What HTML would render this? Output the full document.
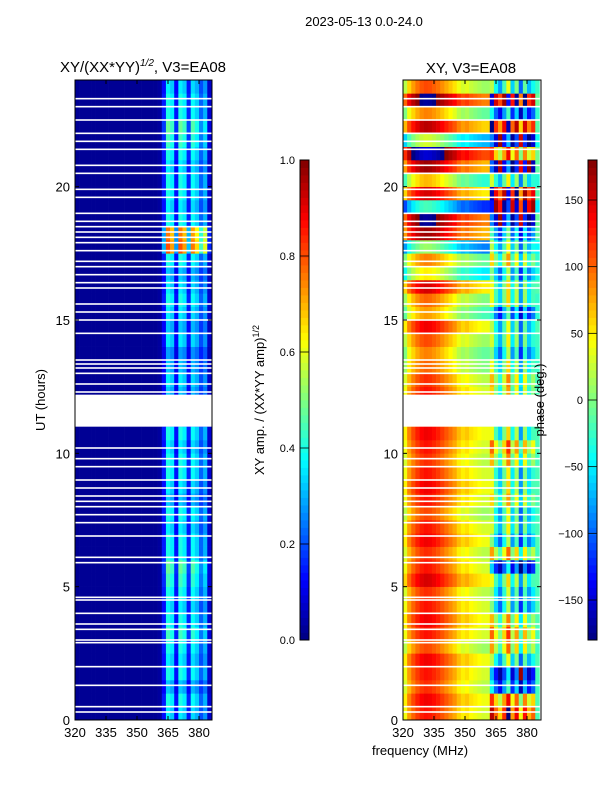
<!DOCTYPE html>
<html><head><meta charset="utf-8"><style>
html,body{margin:0;padding:0;background:#fff;}
svg{display:block;font-family:"Liberation Sans",sans-serif;}
</style></head><body>
<svg id="fig" width="600" height="800" viewBox="0 0 600 800">
<rect width="600" height="800" fill="#fff"/>
<text x="364" y="26" font-size="13" text-anchor="middle">2023-05-13 0.0-24.0</text>
<text x="143" y="72" font-size="15" text-anchor="middle">XY/(XX*YY)<tspan dy="-6" font-size="10" font-style="italic">1/2</tspan><tspan dy="6">, V3=EA08</tspan></text>
<text x="471" y="73" font-size="15" text-anchor="middle">XY, V3=EA08</text>
<g id="ampPanel"></g>
<g id="phPanel"></g>
<g id="axes"></g>
<text transform="translate(45,400) rotate(-90)" font-size="13" text-anchor="middle">UT (hours)</text>
<text x="420" y="755" font-size="13" text-anchor="middle">frequency (MHz)</text>
<text transform="translate(264,400) rotate(-90)" font-size="13" text-anchor="middle">XY amp. / (XX*YY amp)<tspan dy="-5" font-size="9">1/2</tspan></text>
<text transform="translate(544,400) rotate(-90)" font-size="13" text-anchor="middle">phase (deg.)</text>
</svg>
<script>
// ---- data ----
const freqStart = 320, freqStep = 2, nCols = 33;
const timeStep = 0.5, nRows = 48;
const ampLowBase = [0.02,0.02,0.02,0.02,0.02,0.02,0.02,0.02,0.02,0.02,0.02,0.02,0.02,0.02,0.02,0.02,0.02,0.02,0.02,0.02,0.03];
const ampHighCols = [0.15,0.4,0.36,0.14,0.4,0.36,0.16,0.38,0.33,0.22,0.3,0.08];
const ampRowGain = [0.9,1,0.8,1,0.9,1,1.1,1,0.9,1,1.1,1.2,1,1,0.9,1,0.8,0.9,1,1,0.9,1,0.8,0.7,0.8,0.9,0.8,0.7,0.9,0.8,0.9,1,0.9,0.8,1,2.0,1.9,1,0.9,1,1,0.9,1,1.1,1.2,1,1,0.9];
const phLowBase = [40,80,100,115,125,130,128,122,115,105,95,85,75,60,50,55,45,40,35,30,30];
const phLowRow = [0,10,-10,0,10,-20,0,10,0,-10,20,0,-10,10,0,-20,0,10,0,-10,0,10,0,0,0,-10,-30,-40,-20,10,-50,-30,20,-80,-40,-120,40,60,-150,20,-60,40,80,-100,30,-40,60,-20];
const phHighRow = [100,60,-100,-130,-40,20,40,10,-60,-50,-20,-120,20,-60,-30,-40,0,-20,-30,10,40,-20,-20,-20,0,10,-20,-60,-30,-40,-90,-20,-20,-60,0,-40,-80,-150,170,140,-30,-160,60,-150,120,-100,150,-40];
const phHighCols = [60,0,-40,20,80,-20,40,-60,30,-30,0,-20];
const bigGaps = [[11.0,12.2]];
const thinGaps = [0.3,0.5,1.3,2.0,2.9,3.0,3.4,3.6,4.0,4.5,4.6,5.9,6.1,6.9,7.4,7.7,8.0,8.2,8.4,8.7,9.0,9.5,9.8,10.2,12.3,12.6,13.0,13.2,13.35,13.5,14.5,15.0,15.3,15.6,16.2,16.4,16.7,17.0,17.2,17.6,17.9,18.1,18.3,18.5,18.7,19.0,19.6,19.9,20.5,20.8,21.4,21.7,22.0,22.5,23.0,23.3];
const yTicks = [0,5,10,15,20];
const xTicks = [320,335,350,365,380];
const ampCbTicks = [0.0,0.2,0.4,0.6,0.8,1.0];
const phCbTicks = [-150,-100,-50,0,50,100,150];

// ---- geometry ----
const NS="http://www.w3.org/2000/svg";
const plotTop=80, plotBot=720;
const panels={amp:{x0:75,x1:212},ph:{x0:403,x1:541}};
const pxPerMHz=(199-75)/60;
function xs(p,f){return panels[p].x0+(f-320)*pxPerMHz;}
function ys(t){return plotBot-(t/24)*(plotBot-plotTop);}
function jet(v){v=Math.max(0,Math.min(1,v));const c=a=>Math.round(255*Math.max(0,Math.min(1,1.5-Math.abs(4*v-a))));return `rgb(${c(3)},${c(2)},${c(1)})`;}
function mk(tag,attrs,parent){const e=document.createElementNS(NS,tag);for(const k in attrs)e.setAttribute(k,attrs[k]);parent.appendChild(e);return e;}
function wrap(d){return ((d+180)%360+360)%360-180;}

const ampG=document.getElementById('ampPanel'), phG=document.getElementById('phPanel'), axG=document.getElementById('axes');
for(let r=0;r<nRows;r++){
  const y1=ys(r*timeStep), y0=ys((r+1)*timeStep);
  for(let c=0;c<nCols;c++){
    const f0=freqStart+c*freqStep;
    let a,ph;
    if(c<21){a=ampLowBase[c];ph=phLowBase[c]+phLowRow[r];}
    else{a=ampHighCols[c-21]*ampRowGain[r];ph=phHighRow[r]+phHighCols[c-21];if(c==32)ph=-20+phLowRow[r]*0.2;}
    const xa=xs('amp',f0), xb=Math.min(xs('amp',f0+freqStep),panels.amp.x1);
    const ra=mk('rect',{x:xa,y:y0,width:xb-xa+0.3,height:y1-y0+0.3,fill:jet(a)},ampG);
    
    
    const pa=xs('ph',f0), pb=Math.min(xs('ph',f0+freqStep),panels.ph.x1);
    const rp=mk('rect',{x:pa,y:y0,width:pb-pa+0.3,height:y1-y0+0.3,fill:jet((wrap(ph)+180)/360)},phG);
    
    
  }
}
for(const p of ['amp','ph']){
  const g=p=='amp'?ampG:phG;
  for(const [a,b] of bigGaps){const e=mk('rect',{x:panels[p].x0,y:ys(b),width:panels[p].x1-panels[p].x0,height:ys(a)-ys(b),fill:'#fff'},g);
    
    }
  for(const t of thinGaps){const e=mk('rect',{x:panels[p].x0,y:ys(t)-0.8,width:panels[p].x1-panels[p].x0,height:1.6,fill:'#fff'},g);
    
    }
}
for(const p of ['amp','ph']){
  const {x0,x1}=panels[p];
  const fr=mk('rect',{x:x0,y:plotTop,width:x1-x0,height:plotBot-plotTop,fill:'none',stroke:'#000','stroke-width':1},axG);
  
  
  for(const t of yTicks){const y=ys(t);
    mk('line',{x1:x0,x2:x0+4,y1:y,y2:y,stroke:'#000'},axG);mk('line',{x1:x1,x2:x1-4,y1:y,y2:y,stroke:'#000'},axG);
    const tx=mk('text',{x:x0-5,y:y+5,'font-size':13,'text-anchor':'end'},axG);tx.textContent=t;
    
    }
  for(const f of xTicks){const x=xs(p,f);
    mk('line',{x1:x,x2:x,y1:plotBot,y2:plotBot-4,stroke:'#000'},axG);mk('line',{x1:x,x2:x,y1:plotTop,y2:plotTop+4,stroke:'#000'},axG);
    const tx=mk('text',{x:x,y:plotBot+17,'font-size':13,'text-anchor':'middle'},axG);tx.textContent=f;
    
    }
}
function colorbar(x,ticks,lo,hi,name,fmt){
  const y0=160,y1=640,w=9,n=64;
  for(let i=0;i<n;i++){const r=mk('rect',{x:x,y:y1-(i+1)*(y1-y0)/n,width:w,height:(y1-y0)/n+0.4,fill:jet((i+0.5)/n)},axG);
    
    }
  const fr=mk('rect',{x:x,y:y0,width:w,height:y1-y0,fill:'none',stroke:'#000'},axG);
  
  
  for(const t of ticks){const y=y1-(t-lo)/(hi-lo)*(y1-y0);
    mk('line',{x1:x,x2:x+w,y1:y,y2:y,stroke:'#000','stroke-width':0.8},axG);
    const tx=mk('text',{x:x-5,y:y+4,'font-size':11,'text-anchor':'end'},axG);tx.textContent=fmt(t);
    
    }
}
colorbar(300,ampCbTicks,0,1,'amp-colorbar',t=>t.toFixed(1));
colorbar(588,phCbTicks,-180,180,'phase-colorbar',t=>(t<0?'\u2212'+(-t):''+t));
</script>
</body></html>
